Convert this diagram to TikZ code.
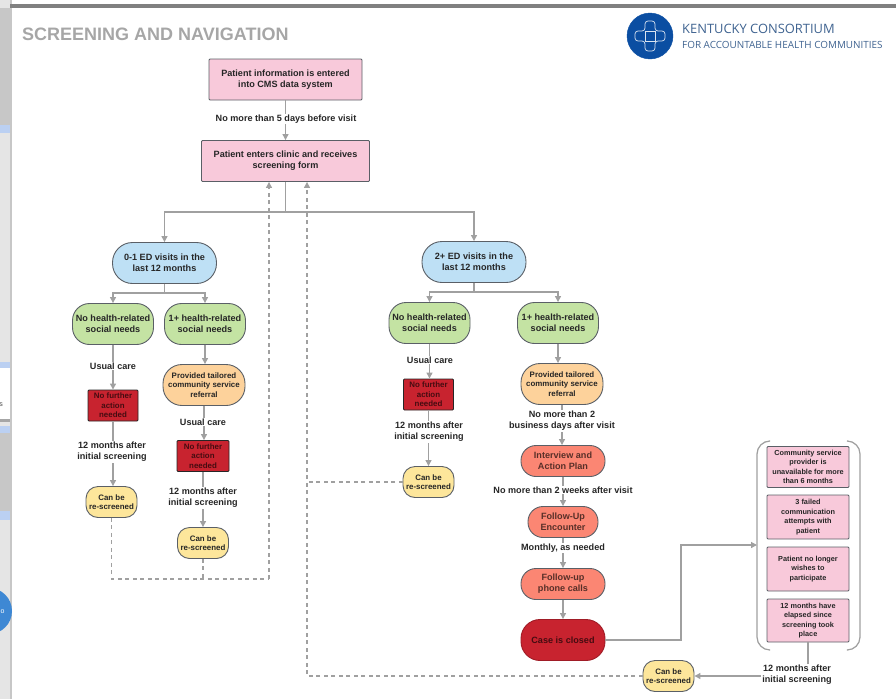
\documentclass[tikz,border=0pt]{standalone}
\usepackage{fontspec}
\setmainfont{Liberation Sans}
\newfontfamily\logofont{Open Sans}
\usetikzlibrary{arrows.meta}
\definecolor{linegray}{HTML}{A0A0A0}
\definecolor{edgegray}{HTML}{5A5F66}
\definecolor{pinkfill}{HTML}{F8C9DA}
\definecolor{bluefill}{HTML}{BEE0F5}
\definecolor{greenfill}{HTML}{C4E3A3}
\definecolor{orangefill}{HTML}{FDD29B}
\definecolor{redfill}{HTML}{C8232F}
\definecolor{yellowfill}{HTML}{FDE69B}
\definecolor{salmonfill}{HTML}{FB8673}
\definecolor{logoblue}{HTML}{0B4EA2}
\definecolor{logotext}{HTML}{3F6390}
\definecolor{stripblue}{HTML}{BBD0F2}
\definecolor{badgeblue}{HTML}{3E88D4}
\begin{document}
\begin{tikzpicture}[%
      x=1pt,y=-1pt,
      textsmall/.style={font=\fontsize{7.9}{9.5}\selectfont\bfseries,align=center,text=black!85},
      textmain/.style={font=\fontsize{9.1}{11}\selectfont\bfseries,align=center,text=black!85},
      boxbase/.style={draw=edgegray,line width=0.9pt,inner sep=0pt},
      pinkbox/.style={boxbase,textmain,fill=pinkfill,rounded corners=1pt},
      reasonbox/.style={boxbase,textsmall,fill=pinkfill,rounded corners=1pt,minimum width=82,font=\fontsize{7.3}{9.5}\selectfont\bfseries},
      bluepill/.style={boxbase,textmain,fill=bluefill,rounded corners=20,minimum width=104,minimum height=41},
      greenpill/.style={boxbase,textmain,fill=greenfill,rounded corners=17,minimum width=81,minimum height=41},
      orangepill/.style={boxbase,textsmall,fill=orangefill,rounded corners=19,minimum width=82,minimum height=41},
      salmonpill/.style={boxbase,textmain,fill=salmonfill,rounded corners=15,minimum height=31,text=black!65!salmonfill},
      redbox/.style={boxbase,textsmall,fill=redfill,draw=black!85,text=black!65!redfill,rounded corners=1pt,minimum width=50,minimum height=31},
      yellowpill/.style={boxbase,textsmall,fill=yellowfill,rounded corners=12,minimum width=51,minimum height=31},
      steplabel/.style={textmain,fill=white,inner sep=1pt},
      flowline/.style={draw=linegray,line width=1.25pt},
      flowarrow/.style={flowline,-{Triangle[length=6pt,width=6pt]}},
      backline/.style={draw=linegray,line width=1.25pt,dash pattern=on 4pt off 3.5pt},
      backarrow/.style={backline,-{Triangle[length=6pt,width=6pt]}},
      ]
      \useasboundingbox (0,0) rectangle (896,699);
      \begin{scope}
      \clip (0,0) rectangle (896,699);
      \fill[color=black!10] (0,0) rectangle (10,699);
      \fill[color=black!22] (0,8) rectangle (10,125);
      \fill[color=stripblue] (0,125) rectangle (10,133);
      \fill[color=stripblue] (0,362) rectangle (10,368);
      \fill[color=white] (0,368) rectangle (10,419);
      \fill[color=black!35] (0,419) rectangle (10,422);
      \fill[color=stripblue] (0,426) rectangle (10,433);
      \fill[color=black!22] (0,433) rectangle (10,511);
      \fill[color=stripblue] (0,511) rectangle (10,520);
      \fill[color=black!22] (10,0) rectangle (11.5,699);
      \fill[color=badgeblue] (-11,611) circle (23);
      \fill[color=black!50] (10,4) rectangle (896,7.5);
      \node[font=\fontsize{7}{8}\selectfont,text=white] (badgeletter) at (2.5,612) {o};
      \node[font=\fontsize{7}{8}\selectfont,text=black!70] (panelletter) at (1,405) {s};
      \end{scope}

      \node[font=\fontsize{18}{20}\selectfont\bfseries,text=black!35,anchor=west,inner sep=0pt] (title) at (22,34) {SCREENING AND NAVIGATION};

      \filldraw [color=logoblue] (650,36) circle (23);
      \draw [color=white!85!logoblue, line width=0.7pt, rounded corners=3] (645,21) -- (655,21) -- (655,31) -- (665,31) -- (665,41) -- (655,41) -- (655,51) -- (645,51) -- (645,41) -- (635,41) -- (635,31) -- (645,31) -- cycle;
      \draw [color=white!85!logoblue, line width=0.7pt] (645,31) -- (645,41) -- (655,41) -- (655,31) -- cycle;
      \node[font=\logofont\fontsize{12.9}{14}\selectfont,text=logotext,anchor=west,inner sep=0pt] (logotop) at (682,29) {KENTUCKY CONSORTIUM};
      \node[font=\logofont\fontsize{9.9}{11}\selectfont,text=logotext,anchor=west,inner sep=0pt] (logobottom) at (682,45) {FOR ACCOUNTABLE HEALTH COMMUNITIES};

      \node[pinkbox,minimum width=153,minimum height=41] (patientinfo) at (285.5,79.5) {Patient information is entered\\into CMS data system};
      \node[pinkbox,minimum width=168,minimum height=41] (clinic) at (285.5,161) {Patient enters clinic and receives\\screening form};

      \node[bluepill] (fewvisits) at (164.5,263) {0-1 ED visits in the\\last 12 months};
      \node[bluepill] (manyvisits) at (474,262) {2+ ED visits in the\\last 12 months};

      \node[greenpill] (noneedsa) at (113,324) {No health-related\\social needs};
      \node[greenpill] (needsa) at (205,324) {1+ health-related\\social needs};
      \node[greenpill] (noneedsb) at (429.5,323) {No health-related\\social needs};
      \node[greenpill] (needsb) at (558,323) {1+ health-related\\social needs};

      \node[orangepill] (referrala) at (204,385) {Provided tailored\\community service\\referral};
      \node[orangepill] (referralb) at (562,384) {Provided tailored\\community service\\referral};

      \node[redbox] (nofurthera) at (113,405.5) {No further\\action\\needed};
      \node[redbox,minimum width=52] (nofurtherb) at (203,456) {No further\\action\\needed};
      \node[redbox] (nofurtherc) at (428.5,394.5) {No further\\action\\needed};

      \node[yellowpill] (rescreena) at (111.5,502) {Can be\\re-screened};
      \node[yellowpill] (rescreenb) at (203,543) {Can be\\re-screened};
      \node[yellowpill] (rescreenc) at (428.5,482) {Can be\\re-screened};
      \node[yellowpill] (rescreend) at (668.5,676) {Can be\\re-screened};

      \node[salmonpill,minimum width=84] (interview) at (563,461) {Interview and\\Action Plan};
      \node[salmonpill,minimum width=70] (encounter) at (563,522) {Follow-Up\\Encounter};
      \node[salmonpill,minimum width=84] (phonecalls) at (563,584) {Follow-up\\phone calls};
      \node[salmonpill,fill=redfill,draw=redfill!80!black,minimum width=84,minimum height=41,rounded corners=19,text=black!65!redfill] (closed) at (563,640) {Case is closed};

      \node[reasonbox,minimum height=41] (reasonone) at (808,467) {Community service\\provider is\\unavailable for more\\than 6 months};
      \node[reasonbox,minimum height=44] (reasontwo) at (808,517) {3 failed\\communication\\attempts with\\patient};
      \node[reasonbox,minimum height=44] (reasonthree) at (808,569) {Patient no longer\\wishes to\\participate};
      \node[reasonbox,minimum height=43] (reasonfour) at (808,620.5) {12 months have\\elapsed since\\screening took\\place};

      \draw[flowline, rounded corners=13] (769,441) -- (757,441) -- (757,650) -- (769,650);
      \draw[flowline, rounded corners=13] (848,441) -- (860,441) -- (860,650) -- (848,650);

      \coordinate (clinicsplit) at (285.5,212);
      \coordinate (fewsplit) at (164.5,293);
      \coordinate (manysplit) at (474,292);
      \coordinate (closedturn) at (681,640);
      \coordinate (reasonsleft) at (757,545);
      \coordinate (returnleft) at (269,579);
      \coordinate (returnright) at (307,676);

      \draw[flowarrow] (patientinfo) -- (clinic);
      \draw[flowline] (clinic) -- (clinicsplit);
      \draw[flowarrow] (clinicsplit) -| (fewvisits);
      \draw[flowarrow] (clinicsplit) -| (manyvisits);
      \draw[flowline] (fewvisits) -- (fewsplit);
      \draw[flowarrow] (fewsplit) -| (noneedsa);
      \draw[flowarrow] (fewsplit) -| (needsa);
      \draw[flowline] (manyvisits) -- (manysplit);
      \draw[flowarrow] (manysplit) -| (noneedsb);
      \draw[flowarrow] (manysplit) -| (needsb);

      \draw[flowarrow] (noneedsa) -- (nofurthera);
      \draw[flowarrow] (nofurthera.south) -- (nofurthera.south |- rescreena.north);
      \draw[flowarrow] (needsa.south) -- (needsa.south |- referrala.north);
      \draw[flowarrow] (referrala.south) -- (referrala.south |- nofurtherb.north);
      \draw[flowarrow] (nofurtherb) -- (rescreenb);
      \draw[flowarrow] (noneedsb.south) -- (noneedsb.south |- nofurtherc.north);
      \draw[flowarrow] (nofurtherc) -- (rescreenc);
      \draw[flowarrow] (needsb.south) -- (needsb.south |- referralb.north);
      \draw[flowarrow] (referralb.south) -- (referralb.south |- interview.north);
      \draw[flowarrow] (interview) -- (encounter);
      \draw[flowarrow] (encounter) -- (phonecalls);
      \draw[flowarrow] (phonecalls) -- (closed);

      \draw[flowarrow] (closed) -- (closedturn) |- (reasonsleft);
      \draw[flowarrow] (reasonfour.south) |- (rescreend.east);

      \draw[backline] (rescreena.south) |- (returnleft);
      \draw[backline] (rescreenb.south) -- (rescreenb.south |- returnleft);
      \draw[backarrow] (returnleft) -- (returnleft |- clinic.south);
      \draw[backline] (rescreenc.west) -- (rescreenc.west -| returnright);
      \draw[backarrow] (rescreend.west) -- (returnright) -- (returnright |- clinic.south);

      \node[steplabel] (beforevisit) at (286,119) {No more than 5 days before visit};
      \node[steplabel] (usualcarea) at (113,366) {Usual care};
      \node[steplabel] (twelvea) at (112,452) {12 months after\\initial screening};
      \node[steplabel] (usualcareb) at (203,422) {Usual care};
      \node[steplabel] (twelveb) at (203,498) {12 months after\\initial screening};
      \node[steplabel] (usualcarec) at (430,360) {Usual care};
      \node[steplabel] (twelvec) at (429,432) {12 months after\\initial screening};
      \node[steplabel] (businessdays) at (562,421) {No more than 2\\business days after visit};
      \node[steplabel] (twoweeks) at (563,490) {No more than 2 weeks after visit};
      \node[steplabel] (monthly) at (563,548) {Monthly, as needed};
      \node[steplabel] (twelved) at (797,675) {12 months after\\initial screening};
      \end{tikzpicture}
\end{document}
